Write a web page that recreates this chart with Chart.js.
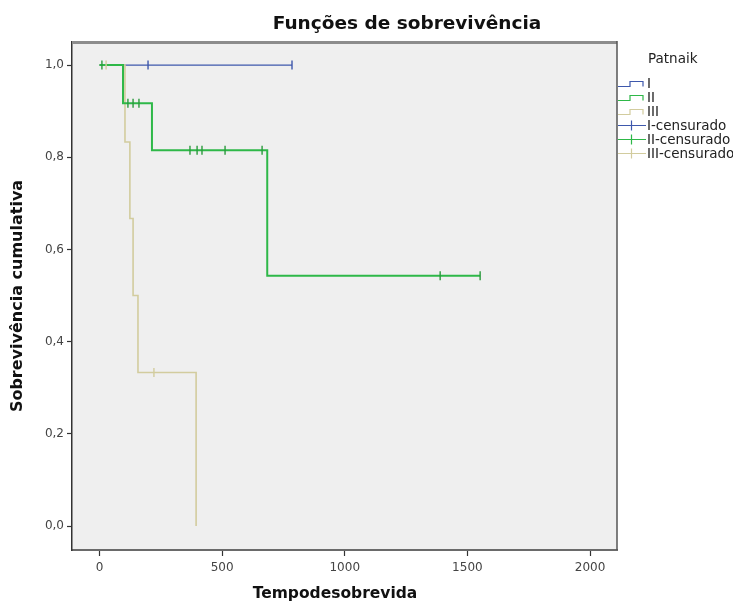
<!DOCTYPE html>
<html>
<head>
<meta charset="utf-8">
<script src="https://cdn.jsdelivr.net/npm/chart.js@4.4.1/dist/chart.umd.min.js"></script>
<style>
html,body{margin:0;padding:0;background:#fff;}
#wrap{position:relative;width:733px;height:608px;overflow:hidden;}
#chart{position:absolute;left:0;top:0;}
#title{position:absolute;left:207px;width:400px;top:12px;text-align:center;font:bold 18.5px "DejaVu Sans";color:#111;white-space:nowrap;}
#xtitle{position:absolute;left:135px;width:400px;top:584px;text-align:center;font:bold 15.5px "DejaVu Sans";color:#111;white-space:nowrap;line-height:18px;}
.lg{position:absolute;font:13.5px "DejaVu Sans";color:#222;white-space:nowrap;line-height:14px;}
.lg svg{position:absolute;left:0;top:0;}
.lg span{position:absolute;left:29px;top:0;}
</style>
</head>
<body>
<div id="wrap">
  <canvas id="chart" width="733" height="608"></canvas>
  <div id="title"></div>
  <div id="xtitle"></div>
  <div id="legend"></div>
</div>
<script>
// ---- data ----
const chartTitle = 'Funções de sobrevivência';
const xTitle = 'Tempodesobrevida';
const yTitle = 'Sobrevivência cumulativa';
const legendTitle = 'Patnaik';
const groupNames = ['I', 'II', 'III'];
const censoredNames = ['I-censurado', 'II-censurado', 'III-censurado'];
const xTicks = [0, 500, 1000, 1500, 2000];
const yTicks = [0, 0.2, 0.4, 0.6, 0.8, 1.0];

const timeI = [0, 785];
const survI = [1, 1];
const timeII = [0, 96, 214, 684, 1552];
const survII = [1, 0.917, 0.815, 0.543, 0.543];
const timeIII = [0, 104, 124, 137, 157, 394];
const survIII = [1, 0.833, 0.667, 0.5, 0.333, 0];

const censTimeI = [198, 785];
const censSurvI = [1, 1];
const censTimeII = [10, 116, 137, 161, 369, 398, 418, 512, 663, 1389, 1552];
const censSurvII = [1, 0.917, 0.917, 0.917, 0.815, 0.815, 0.815, 0.815, 0.815, 0.543, 0.543];
const censTimeIII = [27, 222];
const censSurvIII = [1, 0.333];

// ---- styling ----
const colors = ['#3E58AC', '#2EB848', '#D2CC9E'];
const lineWidths = [1.2, 2, 1.6];

const pts = (t, s) => t.map((v, i) => ({x: v, y: s[i]}));

const curves = [pts(timeI, survI), pts(timeII, survII), pts(timeIII, survIII)];
const cens = [pts(censTimeI, censSurvI), pts(censTimeII, censSurvII), pts(censTimeIII, censSurvIII)];
const drawOrder = [6, 4, 5];

const datasets = [];
curves.forEach((d, i) => {
  datasets.push({
    type: 'line', label: groupNames[i], data: d, stepped: 'before',
    borderColor: colors[i], borderWidth: lineWidths[i], pointRadius: 0,
    fill: false, order: drawOrder[i]
  });
});
cens.forEach((d, i) => {
  datasets.push({
    type: 'line', label: censoredNames[i], data: d, showLine: false,
    pointStyle: 'line', rotation: 90, pointRadius: 4.5,
    borderColor: i === 1 ? '#2a9a3c' : colors[i], borderWidth: 1.4,
    order: i === 0 ? 3 : 1
  });
});

const frame = {
  id: 'frame',
  beforeDraw(chart) {
    const {ctx, chartArea: a} = chart;
    ctx.save();
    ctx.fillStyle = '#efefef';
    ctx.fillRect(a.left, a.top, a.right - a.left, a.bottom - a.top);
    ctx.restore();
  },
  afterDraw(chart) {
    const {ctx, chartArea: a} = chart;
    ctx.save();
    ctx.strokeStyle = '#8c8c8c';
    ctx.lineWidth = 3;
    ctx.beginPath(); ctx.moveTo(a.left, a.top + 0.5); ctx.lineTo(a.right, a.top + 0.5); ctx.stroke();
    ctx.strokeStyle = '#555';
    ctx.lineWidth = 1.5;
    ctx.beginPath(); ctx.moveTo(a.right, a.top - 1); ctx.lineTo(a.right, a.bottom); ctx.stroke();
    ctx.restore();
  }
};

new Chart(document.getElementById('chart'), {
  type: 'line',
  data: {datasets},
  options: {
    responsive: false,
    animation: false,
    devicePixelRatio: 1,
    layout: {padding: {left: 0, top: 42, right: 116, bottom: 0}},
    plugins: {legend: {display: false}, tooltip: {enabled: false}, title: {display: false}},
    scales: {
      x: {
        type: 'linear', min: -112, max: 2110,
        afterBuildTicks: s => { s.ticks = xTicks.map(v => ({value: v})); },
        afterFit: s => { s.height = 58; },
        ticks: {font: {family: 'DejaVu Sans', size: 12}, color: '#444', padding: 5,
                callback: v => String(v)},
        grid: {drawOnChartArea: false, drawTicks: true, tickLength: 6, color: '#333', tickWidth: 1.2},
        border: {display: true, color: '#6a6a6a', width: 2},
        title: {display: false}
      },
      y: {
        type: 'linear', min: -0.052, max: 1.05,
        afterBuildTicks: s => { s.ticks = yTicks.map(v => ({value: v})); },
        afterFit: s => { s.width = 72; },
        ticks: {font: {family: 'DejaVu Sans', size: 12}, color: '#444', padding: 3,
                callback: v => v.toFixed(1).replace('.', ',')},
        grid: {drawOnChartArea: false, drawTicks: true, tickLength: 5, color: '#333', tickWidth: 1.2},
        border: {display: true, color: '#333', width: 1.5},
        title: {display: true, text: yTitle, font: {family: 'DejaVu Sans', size: 16, weight: 'bold'},
                color: '#111', padding: {top: 8, bottom: 0}}
      }
    }
  },
  plugins: [frame]
});

// ---- title, x-axis title & legend (HTML text) ----
document.getElementById('title').textContent = chartTitle;
document.getElementById('xtitle').textContent = xTitle;
const lg = document.getElementById('legend');
function addRow(top, left, text, svg) {
  const d = document.createElement('div');
  d.className = 'lg';
  d.style.top = top + 'px';
  d.style.left = left + 'px';
  d.innerHTML = (svg || '') + '<span></span>';
  d.querySelector('span').textContent = text;
  lg.appendChild(d);
  return d;
}
const tdiv = addRow(51, 648, legendTitle, '');
tdiv.querySelector('span').style.left = '0px';
const rowTop = 76, rowStep = 14;
groupNames.forEach((n, i) => {
  const c = colors[i];
  const svg = `<svg width="28" height="14"><path d="M0,10.5 H12 V5.5 H25 V10.5" fill="none" stroke="${c}" stroke-width="1.2"/></svg>`;
  addRow(rowTop + i * rowStep, 618, n, svg);
});
censoredNames.forEach((n, i) => {
  const c = colors[i];
  const svg = `<svg width="28" height="14"><path d="M0,7.5 H28 M13.5,2.5 V12.5" fill="none" stroke="${c}" stroke-width="1.2"/></svg>`;
  addRow(rowTop + (i + 3) * rowStep, 618, n, svg);
});
</script>
</body>
</html>
